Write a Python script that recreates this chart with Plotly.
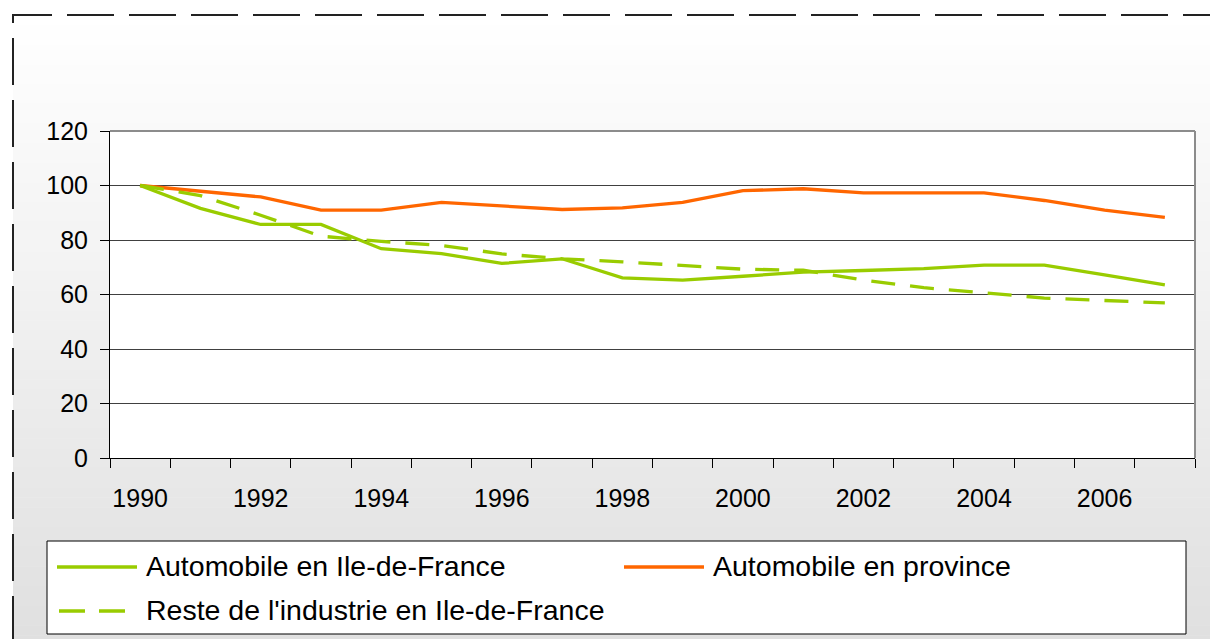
import plotly.graph_objects as go

# ---------------- data ----------------
years = ["1990", "1991", "1992", "1993", "1994", "1995", "1996", "1997", "1998",
         "1999", "2000", "2001", "2002", "2003", "2004", "2005", "2006", "2007"]
tick_labels = ["1990", "", "1992", "", "1994", "", "1996", "", "1998",
               "", "2000", "", "2002", "", "2004", "", "2006", ""]
auto_idf = [100, 91.6, 85.7, 85.7, 76.8, 75.0, 71.4, 73.1, 66.1,
            65.3, 66.7, 68.2, 68.8, 69.5, 70.8, 70.8, 67.2, 63.5]
auto_prov = [100, 98.0, 95.8, 91.0, 91.0, 93.8, 92.5, 91.2, 91.8,
             93.8, 98.1, 98.8, 97.3, 97.3, 97.3, 94.5, 91.0, 88.3]
reste_idf = [100, 96.3, 89.1, 81.4, 79.5, 78.0, 74.9, 73.1, 72.0,
             70.8, 69.3, 68.9, 65.3, 62.5, 60.7, 58.7, 57.8, 56.9]
names = ["Automobile en Ile-de-France", "Automobile en province",
         "Reste de l'industrie en Ile-de-France"]

GREEN = "#99CC00"
ORANGE = "#FF6600"
FONT = "Liberation Sans, Arial, sans-serif"

W, H = 1210, 639
L, R, T, B = 110, 15, 131, 181


def px(x):
    return (x - L) / (W - L - R)


def py(y):
    return (H - B - y) / (H - T - B)


fig = go.Figure()
fig.add_trace(go.Scatter(x=years, y=auto_idf, mode="lines", name=names[0],
                         line=dict(color=GREEN, width=3.3)))
fig.add_trace(go.Scatter(x=years, y=auto_prov, mode="lines", name=names[1],
                         line=dict(color=ORANGE, width=3.3)))
fig.add_trace(go.Scatter(x=years, y=reste_idf, mode="lines", name=names[2],
                         line=dict(color=GREEN, width=3.3, dash="24px,15px")))

shapes = []
# gradient background (bands)
N = 64
top, bot = 15, 645
for i in range(N):
    y0 = top + (bot - top) * i / N
    y1 = top + (bot - top) * (i + 1) / N
    mid = (y0 + y1) / 2
    g = int(round(255 - (mid - top) / (639 - top) * 31))
    shapes.append(dict(type="rect", xref="paper", yref="paper",
                       x0=px(13), x1=px(1220), y0=py(y0), y1=py(y1 + 0.5),
                       fillcolor=f"rgb({g},{g},{g})", line=dict(width=0),
                       layer="below"))
# plot area
shapes.append(dict(type="rect", xref="paper", yref="paper", x0=0, x1=1, y0=0, y1=1,
                   fillcolor="white", line=dict(width=0), layer="below"))
# legend box
shapes.append(dict(type="rect", xref="paper", yref="paper",
                   x0=px(47), x1=px(1186), y0=py(634), y1=py(541),
                   fillcolor="white", line=dict(color="black", width=1), layer="below"))
# legend symbols
shapes.append(dict(type="line", xref="paper", yref="paper", x0=px(57), x1=px(137),
                   y0=py(567), y1=py(567), line=dict(color=GREEN, width=3.3), layer="above"))
shapes.append(dict(type="line", xref="paper", yref="paper", x0=px(624), x1=px(704),
                   y0=py(567), y1=py(567), line=dict(color=ORANGE, width=3.3), layer="above"))
shapes.append(dict(type="line", xref="paper", yref="paper", x0=px(59), x1=px(125),
                   y0=py(611), y1=py(611), line=dict(color=GREEN, width=3.3, dash="26px,14px"),
                   layer="above"))
# plot border (top / right, gray)
shapes.append(dict(type="line", xref="paper", yref="paper", x0=0, x1=1, y0=1, y1=1,
                   line=dict(color="#8c8c8c", width=2), layer="above"))
shapes.append(dict(type="line", xref="paper", yref="paper", x0=1, x1=1, y0=0, y1=1,
                   line=dict(color="#8c8c8c", width=2), layer="above"))
# outer dashed frame
shapes.append(dict(type="path", xref="paper", yref="paper",
                   path=f"M{px(13)},{py(23)} L{px(13)},{py(15)} L{px(1230)},{py(15)}",
                   line=dict(color="#222222", width=2, dash="47px,15px"), layer="above"))
shapes.append(dict(type="path", xref="paper", yref="paper",
                   path=f"M{px(13)},{py(38)} L{px(13)},{py(660)}",
                   line=dict(color="#222222", width=2, dash="47px,15px"), layer="above"))

LEG_FONT = dict(family=FONT, size=28.5, color="black")
annotations = [
    dict(text=names[0], x=px(144), y=py(566), xref="paper", yref="paper",
         xanchor="left", yanchor="middle", showarrow=False, font=LEG_FONT),
    dict(text=names[1], x=px(711), y=py(566), xref="paper", yref="paper",
         xanchor="left", yanchor="middle", showarrow=False, font=LEG_FONT),
    dict(text=names[2], x=px(144), y=py(610), xref="paper", yref="paper",
         xanchor="left", yanchor="middle", showarrow=False, font=LEG_FONT),
]

fig.update_layout(
    width=W, height=H,
    margin=dict(l=L, r=R, t=T, b=B, pad=0),
    paper_bgcolor="white",
    plot_bgcolor="white",
    showlegend=False,
    shapes=shapes,
    annotations=annotations,
    font=dict(family=FONT, size=25, color="black"),
    xaxis=dict(type="category", tickmode="array", tickvals=years, ticktext=tick_labels,
               tickson="boundaries", ticks="outside", ticklen=9, tickwidth=1,
               tickcolor="black", showline=True, linecolor="black", linewidth=1,
               showgrid=False, range=[-0.5, 17.5], ticklabelstandoff=18, tickangle=0,
               tickfont=dict(family=FONT, size=25, color="black")),
    yaxis=dict(range=[0, 120], tick0=0, dtick=20, ticks="outside", ticklen=9,
               tickwidth=1, tickcolor="black", showline=True, linecolor="black",
               linewidth=1, showgrid=True, gridcolor="#404040", gridwidth=1,
               zeroline=False, ticklabelstandoff=7,
               tickfont=dict(family=FONT, size=25, color="black")),
)

fig.write_html("out.html", config={"displayModeBar": False},
               post_script="document.body.style.margin='0';document.body.style.overflow='hidden';")
